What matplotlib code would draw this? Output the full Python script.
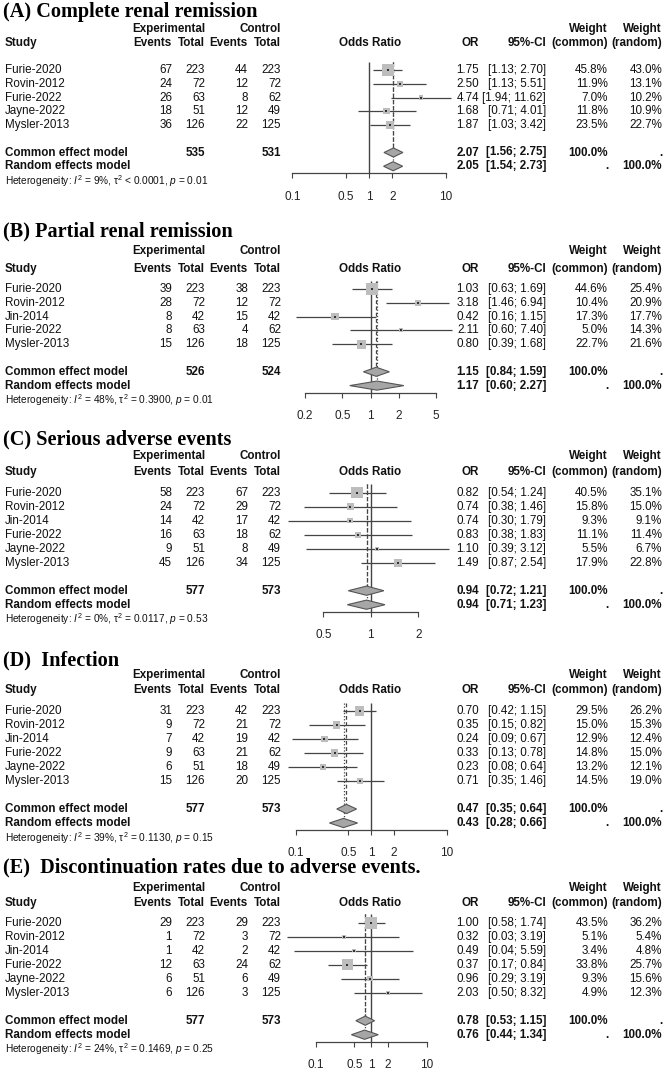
import numpy as np
import matplotlib.pyplot as plt
from matplotlib.transforms import blended_transform_factory
from matplotlib.ticker import NullLocator

plt.rcParams['font.family'] = ['Liberation Sans', 'DejaVu Sans']
plt.rcParams['mathtext.fontset'] = 'custom'
plt.rcParams['mathtext.rm'] = 'Liberation Sans'
plt.rcParams['mathtext.it'] = 'Liberation Sans:italic'

# ---- data ----
titles = ["(A) Complete renal remission", "(B) Partial renal remission",
          "(C) Serious adverse events", "(D)  Infection",
          "(E)  Discontinuation rates due to adverse events."]

a_study = ["Furie-2020", "Rovin-2012", "Furie-2022", "Jayne-2022", "Mysler-2013"]
a_e_ev = [67, 24, 26, 18, 36]
a_e_tot = [223, 72, 63, 51, 126]
a_c_ev = [44, 12, 8, 12, 22]
a_c_tot = [223, 72, 62, 49, 125]
a_or = [1.75, 2.50, 4.74, 1.68, 1.87]
a_lo = [1.13, 1.13, 1.94, 0.71, 1.03]
a_hi = [2.70, 5.51, 11.62, 4.01, 3.42]
a_wc = [45.8, 11.9, 7.0, 11.8, 23.5]
a_wr = [43.0, 13.1, 10.2, 10.9, 22.7]

b_study = ["Furie-2020", "Rovin-2012", "Jin-2014", "Furie-2022", "Mysler-2013"]
b_e_ev = [39, 28, 8, 8, 15]
b_e_tot = [223, 72, 42, 63, 126]
b_c_ev = [38, 12, 15, 4, 18]
b_c_tot = [223, 72, 42, 62, 125]
b_or = [1.03, 3.18, 0.42, 2.11, 0.80]
b_lo = [0.63, 1.46, 0.16, 0.60, 0.39]
b_hi = [1.69, 6.94, 1.15, 7.40, 1.68]
b_wc = [44.6, 10.4, 17.3, 5.0, 22.7]
b_wr = [25.4, 20.9, 17.7, 14.3, 21.6]

six_study = ["Furie-2020", "Rovin-2012", "Jin-2014", "Furie-2022", "Jayne-2022", "Mysler-2013"]
six_e_tot = [223, 72, 42, 63, 51, 126]
six_c_tot = [223, 72, 42, 62, 49, 125]

c_e_ev = [58, 24, 14, 16, 9, 45]
c_c_ev = [67, 29, 17, 18, 8, 34]
c_or = [0.82, 0.74, 0.74, 0.83, 1.10, 1.49]
c_lo = [0.54, 0.38, 0.30, 0.38, 0.39, 0.87]
c_hi = [1.24, 1.46, 1.79, 1.83, 3.12, 2.54]
c_wc = [40.5, 15.8, 9.3, 11.1, 5.5, 17.9]
c_wr = [35.1, 15.0, 9.1, 11.4, 6.7, 22.8]

d_e_ev = [31, 9, 7, 9, 6, 15]
d_c_ev = [42, 21, 19, 21, 18, 20]
d_or = [0.70, 0.35, 0.24, 0.33, 0.23, 0.71]
d_lo = [0.42, 0.15, 0.09, 0.13, 0.08, 0.35]
d_hi = [1.15, 0.82, 0.67, 0.78, 0.64, 1.46]
d_wc = [29.5, 15.0, 12.9, 14.8, 13.2, 14.5]
d_wr = [26.2, 15.3, 12.4, 15.0, 12.1, 19.0]

e_e_ev = [29, 1, 1, 12, 6, 6]
e_c_ev = [29, 3, 2, 24, 6, 3]
e_or = [1.00, 0.32, 0.49, 0.37, 0.96, 2.03]
e_lo = [0.58, 0.03, 0.04, 0.17, 0.29, 0.50]
e_hi = [1.74, 3.19, 5.59, 0.84, 3.19, 8.32]
e_wc = [43.5, 5.1, 3.4, 33.8, 9.3, 4.9]
e_wr = [36.2, 5.4, 4.8, 25.7, 15.6, 12.3]

# pooled estimates: [OR, lower, upper]
common_est = [[2.07, 1.56, 2.75], [1.15, 0.84, 1.59], [0.94, 0.72, 1.21],
              [0.47, 0.35, 0.64], [0.78, 0.53, 1.15]]
random_est = [[2.05, 1.54, 2.73], [1.17, 0.60, 2.27], [0.94, 0.71, 1.23],
              [0.43, 0.28, 0.66], [0.76, 0.44, 1.34]]
sum_e_tot = [535, 526, 577, 577, 577]
sum_c_tot = [531, 524, 573, 573, 573]
het_i2 = ["9%", "48%", "0%", "39%", "24%"]
het_tau2 = ["< 0.0001", "= 0.3900", "= 0.0117", "= 0.1130", "= 0.1469"]
het_p = ["0.01", "0.01", "0.53", "0.15", "0.25"]
x_ticks = [[0.1, 0.5, 1, 2, 10], [0.2, 0.5, 1, 2, 5], [0.5, 1, 2],
           [0.1, 0.5, 1, 2, 10], [0.1, 0.5, 1, 2, 10]]
x_ticklabels = [["0.1", "0.5", "1", "2", "10"], ["0.2", "0.5", "1", "2", "5"],
                ["0.5", "1", "2"], ["0.1", "0.5", "1", "2", "10"],
                ["0.1", "0.5", "1", "2", "10"]]

panels = [
    (a_study, a_e_ev, a_e_tot, a_c_ev, a_c_tot, a_or, a_lo, a_hi, a_wc, a_wr),
    (b_study, b_e_ev, b_e_tot, b_c_ev, b_c_tot, b_or, b_lo, b_hi, b_wc, b_wr),
    (six_study, c_e_ev, six_e_tot, c_c_ev, six_c_tot, c_or, c_lo, c_hi, c_wc, c_wr),
    (six_study, d_e_ev, six_e_tot, d_c_ev, six_c_tot, d_or, d_lo, d_hi, d_wc, d_wr),
    (six_study, e_e_ev, six_e_tot, e_c_ev, six_c_tot, e_or, e_lo, e_hi, e_wc, e_wr),
]

# ---- layout in pixels ----
W, H = 666, 1070
first_row = [70, 289, 492.7, 711, 922.7]
row_h = [13.75, 13.8, 14, 14, 14]
title_y = [12, 231.5, 439, 660.6, 867.5]
hdr_exp = [-2.98, -2.75, -2.6, -2.6, -2.5]
hdr_study = [-1.96, -1.48, -1.48, -1.5, -1.44]
ax_x = [(292.3, 446), (305, 436), (323.3, 418.3), (295.7, 446.7), (315.7, 426.7)]

col_study, col_eev, col_etot, col_cev, col_ctot = 5, 172, 205, 248, 281
col_fc, col_or, col_ci, col_wc, col_wr = 370, 479, 546, 608, 662

fs = 8.4
line_col = '#444444'
sq_col = '#bdbdbd'
dia_col = '#a6a6a6'

fig = plt.figure(figsize=(6.66, 10.7), dpi=100)

for k, p in enumerate(panels):
    study, e_ev, e_tot, c_ev, c_tot, orr, lo, hi, wc, wr = p
    n = len(study)
    rh = row_h[k]
    top, bot = -0.6, n + 2.5
    x0, x1 = ax_x[k]
    ax = fig.add_axes([x0 / W, 1 - (first_row[k] + bot * rh) / H,
                       (x1 - x0) / W, (bot - top) * rh / H])
    ax.set_xscale('log')
    ax.set_xlim(x_ticks[k][0], x_ticks[k][-1])
    ax.set_ylim(bot, top)
    ax.set_xticks(x_ticks[k], x_ticklabels[k])
    ax.xaxis.set_minor_locator(NullLocator())
    ax.patch.set_visible(False)
    for s in ['top', 'left', 'right']:
        ax.spines[s].set_visible(False)
    ax.spines['bottom'].set_color(line_col)
    ax.spines['bottom'].set_linewidth(0.9)
    ax.tick_params(axis='x', direction='out', length=3.6, width=0.8, pad=9,
                   labelsize=8.5, color=line_col, labelcolor='#222222')
    ax.tick_params(axis='y', left=False, labelleft=False)

    rows = np.arange(n)
    ce, re_ = common_est[k], random_est[k]

    # reference lines: null, common (dashed), random (dotted)
    ax.vlines(1, top, bot, color=line_col, lw=1.0, clip_on=False)
    ax.vlines(ce[0], top, n + 1 - 0.33, color=line_col, lw=0.9,
              linestyles=(0, (3, 2)), clip_on=False)
    ax.vlines(re_[0], top, n + 2 - 0.33, color=line_col, lw=0.9,
              linestyles=(0, (1, 1.5)), clip_on=False)

    # study estimates
    ax.hlines(rows, lo, hi, color=line_col, lw=0.9, clip_on=False, zorder=2)
    side_pt = 1.82 * np.sqrt(np.array(wc)) * 0.72
    ax.scatter(orr, rows, marker='s', s=side_pt ** 2, color=sq_col,
               linewidths=0, zorder=3, clip_on=False)
    ax.scatter(orr, rows, marker='s', s=2.2, color='#333333',
               linewidths=0, zorder=4, clip_on=False)

    # pooled diamonds
    for est, r in [(ce, n + 1), (re_, n + 2)]:
        ax.fill([est[1], est[0], est[2], est[0]], [r, r - 0.33, r, r + 0.33],
                facecolor=dia_col, edgecolor='#555555', lw=0.8, zorder=3,
                clip_on=False)

    tr = blended_transform_factory(fig.transFigure, ax.transData)

    def put(xpx, row, s, ha='right', bold=False, size=fs):
        ax.text(xpx / W, row, s, transform=tr, ha=ha, va='center',
                fontsize=size, fontweight='bold' if bold else 'normal',
                color='#111111', clip_on=False)

    fig.text(3 / W, 1 - title_y[k] / H, titles[k], ha='left', va='center',
             fontsize=14.6, fontweight='bold', family='Liberation Serif')

    he, hs = hdr_exp[k], hdr_study[k]
    put(col_study, hs, 'Study', ha='left', bold=True)
    put(col_etot, he, 'Experimental', bold=True)
    put(col_ctot, he, 'Control', bold=True)
    put(col_eev, hs, 'Events', bold=True)
    put(col_etot, hs, 'Total', bold=True)
    put(col_cev, hs, 'Events', bold=True)
    put(col_ctot, hs, 'Total', bold=True)
    put(col_fc, hs, 'Odds Ratio', ha='center', bold=True)
    put(col_or, hs, 'OR', bold=True)
    put(col_ci, hs, '95%-CI', bold=True)
    put(col_wc, he, 'Weight', bold=True)
    put(col_wc, hs, '(common)', bold=True)
    put(col_wr, he, 'Weight', bold=True)
    put(col_wr, hs, '(random)', bold=True)

    for i in range(n):
        put(col_study, i, study[i], ha='left')
        put(col_eev, i, str(e_ev[i]))
        put(col_etot, i, str(e_tot[i]))
        put(col_cev, i, str(c_ev[i]))
        put(col_ctot, i, str(c_tot[i]))
        put(col_or, i, f"{orr[i]:.2f}")
        put(col_ci, i, f"[{lo[i]:.2f}; {hi[i]:.2f}]")
        put(col_wc, i, f"{wc[i]:.1f}%")
        put(col_wr, i, f"{wr[i]:.1f}%")

    r = n + 1
    put(col_study, r, 'Common effect model', ha='left', bold=True)
    put(col_etot, r, str(sum_e_tot[k]), bold=True)
    put(col_ctot, r, str(sum_c_tot[k]), bold=True)
    put(col_or, r, f"{ce[0]:.2f}", bold=True)
    put(col_ci, r, f"[{ce[1]:.2f}; {ce[2]:.2f}]", bold=True)
    put(col_wc, r, '100.0%', bold=True)
    put(col_wr, r, '.', bold=True)
    r = n + 2
    put(col_study, r, 'Random effects model', ha='left', bold=True)
    put(col_or, r, f"{re_[0]:.2f}", bold=True)
    put(col_ci, r, f"[{re_[1]:.2f}; {re_[2]:.2f}]", bold=True)
    put(col_wc, r, '.', bold=True)
    put(col_wr, r, '100.0%', bold=True)

    het = (r"Heterogeneity: $I^2$ = " + het_i2[k] + r", τ$^2$ " + het_tau2[k]
           + r", $p$ = " + het_p[k])
    put(col_study, n + 3.05, het, ha='left', size=7.3)

fig.savefig('out.png', dpi=100)
